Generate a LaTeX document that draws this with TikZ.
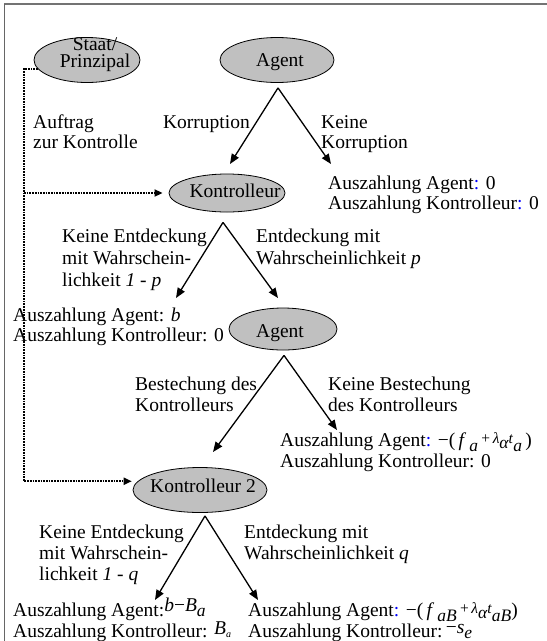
\documentclass[tikz,border=0pt]{standalone}
\usepackage{fontspec}
\setmainfont{Liberation Serif}
\usetikzlibrary{arrows.meta,shapes.geometric,calc}
\definecolor{ellfill}{RGB}{192,192,192}
\definecolor{colblue}{RGB}{0,0,255}
\newcommand{\bc}{\textcolor{colblue}{:}}
\newcommand{\sbx}[2][-5.5pt]{\raisebox{#1}{\fontsize{17.5}{17.5}\selectfont\itshape #2}}
\newcommand{\smf}[2][2.5pt]{\raisebox{#1}{\fontsize{15.5}{15.5}\selectfont #2}}
\begin{document}
\begin{tikzpicture}[x=1pt,y=-1pt,
  font=\fontsize{19.5}{22}\selectfont,
  ell/.style={ellipse, draw=black, line width=0.8pt, fill=ellfill, inner sep=0pt},
  lbl/.style={anchor=base west, inner sep=0pt, align=left},
  lblr/.style={anchor=base east, inner sep=0pt, align=right},
  ctr/.style={anchor=base, inner sep=0pt, align=center},
  sp20/.style={font=\fontsize{19.5}{20}\selectfont},
  sp21/.style={font=\fontsize{19.5}{21}\selectfont},
  arr/.style={line width=1.3pt, -{Triangle[length=10pt,width=8pt]}},
  dotline/.style={line width=1.7pt, dash pattern=on 1.7pt off 1pt},
  dotarr/.style={dotline, -{Triangle[length=8pt,width=7pt]}}]
\useasboundingbox (0,0) rectangle (547,641);
% frame
\draw[black!55, line width=2pt] (4,4.2) -- (547,4.2);
\draw[black!60, line width=1pt] (4.5,4) -- (4.5,641);

% ellipses (multi-line nodes are placed by the baseline of their last line)
\node[ell, minimum width=106pt, minimum height=45pt] (staat) at (87,60) {};
\node[ctr, font=\fontsize{19.5}{17}\selectfont] (staattxt) at (95,67) {Staat/\\Prinzipal};
\node[ell, minimum width=114pt, minimum height=45pt] (agent1) at (277,60) {};
\node[ctr] (agent1txt) at (280,66) {Agent};
\node[ell, minimum width=116pt, minimum height=38pt] (k1) at (227,193) {};
\node[ctr] (k1txt) at (235,197) {Kontrolleur};
\node[ell, minimum width=108pt, minimum height=42pt] (agent2) at (283,329) {};
\node[ctr] (agent2txt) at (280,337) {Agent};
\node[ell, minimum width=134pt, minimum height=45pt] (k2) at (200,490) {};
\node[ctr] (k2txt) at (203,492) {Kontrolleur 2};

% labels
\node[lbl, sp20] (auftrag) at (33,148) {Auftrag\\zur Kontrolle};
\node[lblr] (korr) at (250,128) {Korruption};
\node[lbl, sp20] (nokorr) at (321,148) {Keine\\Korruption};
\node[lbl, sp20] (pay1) at (328,209) {Auszahlung Agent\bc{} 0\\Auszahlung Kontrolleur\bc{} 0};
\node[lbl] (k1left) at (62,286) {Keine Entdeckung\\mit Wahrschein-\\lichkeit \textit{1 - p}};
\node[lbl] (k1right) at (256,264) {Entdeckung mit\\Wahrscheinlichkeit \textit{p}};
\node[lbl, sp20] (pay2) at (13,341) {Auszahlung Agent: \textit{b}\\Auszahlung Kontrolleur: 0};
\node[lbl, sp21] (brib) at (135,411) {Bestechung des\\Kontrolleurs};
\node[lbl, sp21] (nobrib) at (328,411) {Keine Bestechung\\des Kontrolleurs};
\node[lbl, sp21] (pay3) at (280,467) {Auszahlung Agent\bc{} \smash{−(\,\textit{f}\,\sbx{a}\,\smf{+\,\textit{λ}}\sbx[-2pt]{α}\smf{\textit{t}}\sbx{a}\,)}\\Auszahlung Kontrolleur: 0};
\node[lbl, sp21] (k2left) at (39,580) {Keine Entdeckung\\mit Wahrschein-\\lichkeit \textit{1 - q}};
\node[lbl, sp21] (k2right) at (244,559) {Entdeckung mit\\Wahrscheinlichkeit \textit{q}};
\node[lbl, sp21] (pay4) at (13,637) {Auszahlung Agent:\smash{\raisebox{5pt}{\textit{b}−\textit{B}\sbx{a}}}\\Auszahlung Kontrolleur: \smash{\raisebox{3pt}{\textit{B}\raisebox{-3pt}{\fontsize{10}{10}\selectfont\itshape a}}}};
\node[lbl, sp21] (pay5) at (248,637) {Auszahlung Agent\bc{} \smash{−(\,\textit{f}\,\sbx{aB}\,\smf{+\,\textit{λ}}\sbx[-2pt]{α}\smf{\textit{t}}\sbx{aB})}\\Auszahlung Kontrolleur:\,\smash{\raisebox{4pt}{−\textit{s}\sbx{e}}}};

% forks and tips
\coordinate (f1) at ($(agent1.south)+(1,5)$);
\coordinate (t1l) at (230,164);
\coordinate (t1r) at (331,164);
\coordinate (f2) at ($(k1.south)+(-4,10)$);
\coordinate (t2l) at (176,298);
\coordinate (t2r) at (278,298);
\coordinate (f3) at ($(agent2.south)+(1,5)$);
\coordinate (t3l) at (213,452);
\coordinate (t3r) at (337,430);
\coordinate (f4) at ($(k2.south)+(5,3)$);
\coordinate (t4l) at (155,600);
\coordinate (t4r) at (258,600);

\draw[arr] (f1) -- (t1l);
\draw[arr] (f1) -- (t1r);
\draw[arr] (f2) -- (t2l);
\draw[arr] (f2) -- (t2r);
\draw[arr] (f3) -- (t3l);
\draw[arr] (f3) -- (t3r);
\draw[arr] (f4) -- (t4l);
\draw[arr] (f4) -- (t4r);

% dotted commissioning lines
\coordinate (rail) at (24,0);
\path (k1.west) ++(-6,0) coordinate (k1in);
\path (k2.172) ++(-6,0) coordinate (k2in);
\draw[dotarr] (staat.190) -| (rail |- k2in) -- (k2in);
\draw[dotarr] (rail |- k1in) -- (k1in);
\end{tikzpicture}
\end{document}
